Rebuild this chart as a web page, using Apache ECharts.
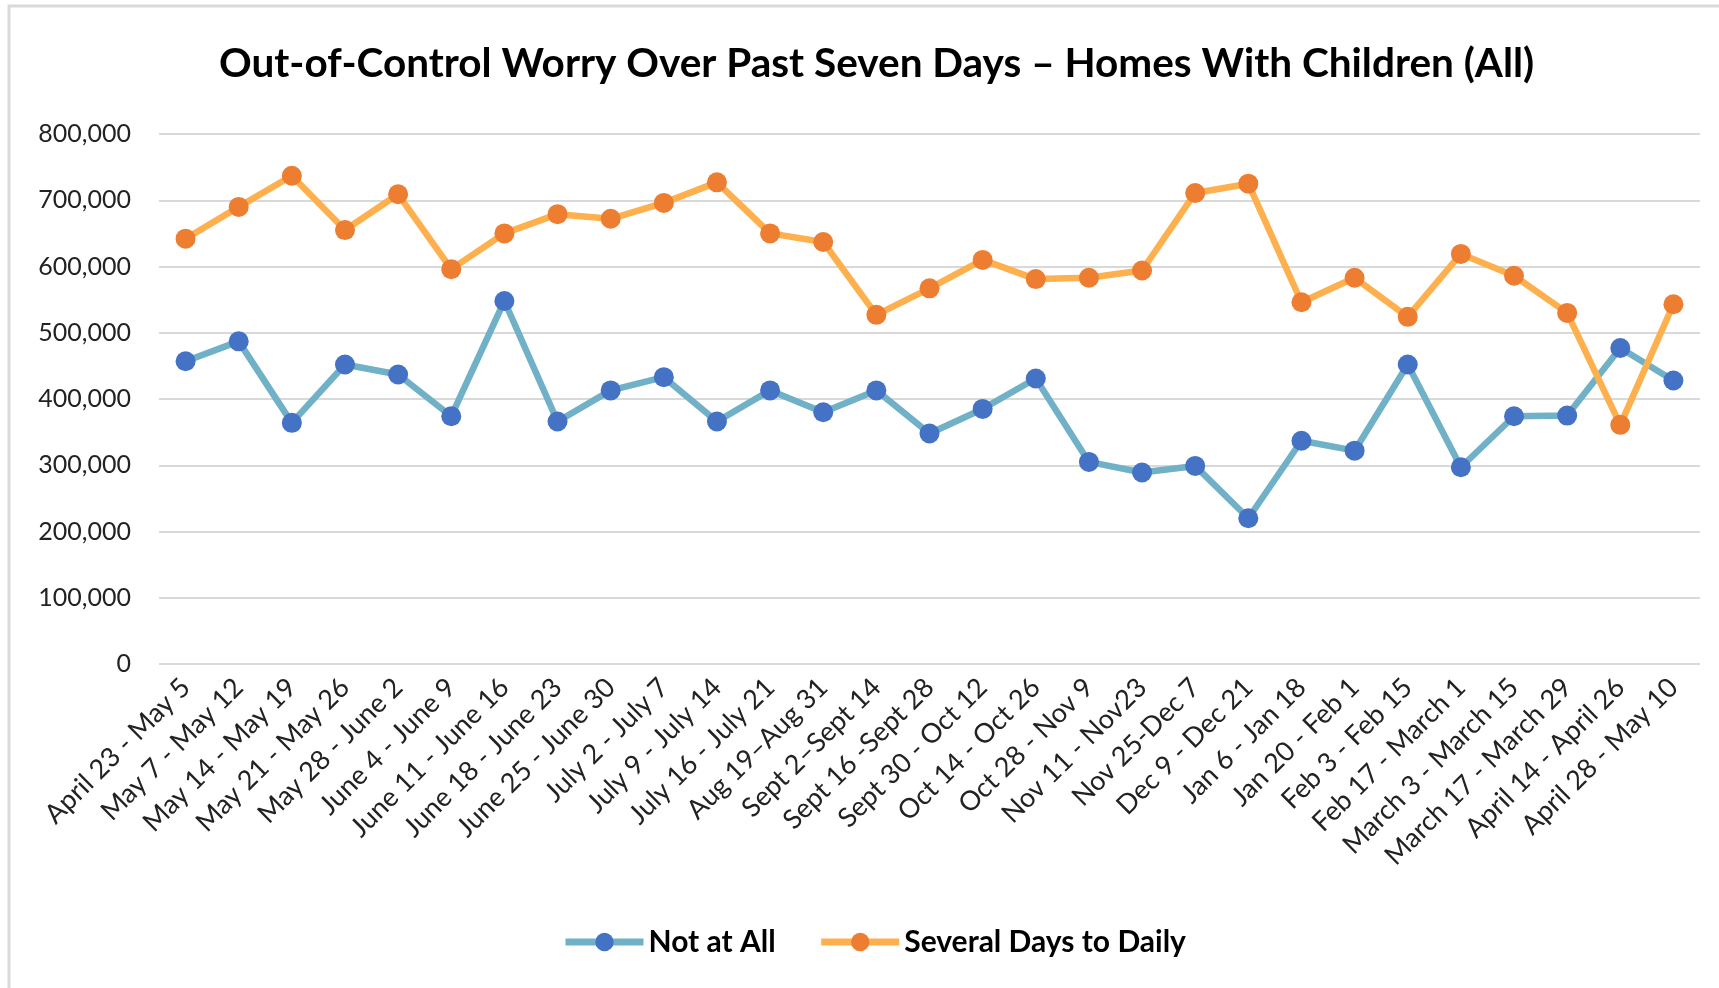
<!DOCTYPE html>
<html>
<head>
<meta charset="utf-8">
<title>Out-of-Control Worry</title>
<script src="https://cdn.jsdelivr.net/npm/echarts@6/dist/echarts.min.js"></script>
<style>
  html, body { margin: 0; padding: 0; background: #fff; }
  #chart { width: 1719px; height: 988px; }
</style>
</head>
<body>
<div id="chart"></div>
<script>
  // week ranges on the x axis
  const weeks = [
    'April 23 - May 5', 'May 7 - May 12', 'May 14 - May 19', 'May 21 - May 26',
    'May 28 - June 2', 'June 4 - June 9', 'June 11 - June 16', 'June 18 - June 23',
    'June 25 - June 30', 'July 2 - July 7', 'July 9 - July 14', 'July 16 - July 21',
    'Aug 19\u2013Aug 31', 'Sept 2\u2013Sept 14', 'Sept 16 -Sept 28', 'Sept 30 - Oct 12',
    'Oct 14 - Oct 26', 'Oct 28 - Nov 9', 'Nov 11 - Nov23', 'Nov 25-Dec 7',
    'Dec 9 - Dec 21', 'Jan 6 - Jan 18', 'Jan 20 - Feb 1', 'Feb 3 - Feb 15',
    'Feb 17 - March 1', 'March 3 - March 15', 'March 17 - March 29', 'April 14 - April 26',
    'April 28 - May 10'
  ]

  const notAtAll = [
    457000, 487000, 364000, 452000, 437000, 374000, 548000, 366000,
    413000, 433000, 366000, 413000, 380000, 413000, 348000, 385000,
    431000, 305000, 289000, 299000, 220000, 337000, 322000, 452000,
    297000, 374000, 375000, 477000, 428000
  ]

  const severalDays = [
    642000, 690000, 737000, 655000, 709000, 596000, 650000, 679000,
    672000, 696000, 727000, 650000, 637000, 527000, 567000, 610000,
    581000, 583000, 594000, 711000, 725000, 546000, 583000, 524000,
    619000, 586000, 530000, 361000, 543000
  ]

  const yTicks = [0, 800000, 100000] // min, max, step

  const chart = echarts.init(document.getElementById('chart'))
  const font = 'Lato, "Open Sans", sans-serif'

  chart.setOption({
    backgroundColor: '#fff',
    animation: false,
    textStyle: { fontFamily: font },
    graphic: [{
      type: 'rect',
      shape: { x: 9, y: 6, width: 1760, height: 1040 },
      style: { fill: 'none', stroke: '#d9d9d9', lineWidth: 3 },
      silent: true
    }],
    title: {
      text: 'Out-of-Control Worry Over Past Seven Days \u2013 Homes With Children (All)',
      left: 214,
      top: 38,
      textStyle: {
        fontFamily: font,
        fontSize: 40.5,
        fontWeight: 'bold',
        color: '#000'
      }
    },
    legend: {
      data: [
        { name: 'Not at All', lineStyle: { width: 7 } },
        { name: 'Several Days to Daily', lineStyle: { width: 7 } }
      ],
      left: 557,
      top: 922,
      itemWidth: 78,
      itemHeight: 23,
      itemGap: 42,
      textStyle: {
        fontFamily: font,
        fontSize: 30,
        fontWeight: 'bold',
        color: '#000'
      }
    },
    grid: {
      left: 159,
      right: 19,
      top: 134,
      bottom: 324
    },
    xAxis: {
      type: 'category',
      data: weeks,
      boundaryGap: true,
      axisLine: { show: false },
      axisTick: { show: false },
      axisLabel: {
        interval: 0,
        rotate: 45,
        margin: 19,
        fontFamily: font,
        fontSize: 27,
        color: '#222'
      }
    },
    yAxis: {
      type: 'value',
      min: yTicks[0],
      max: yTicks[1],
      interval: yTicks[2],
      axisLine: { show: false },
      axisTick: { show: false },
      axisLabel: {
        margin: 28,
        fontFamily: font,
        fontSize: 25,
        color: '#222',
        formatter: v => v.toLocaleString('en-US')
      },
      splitLine: { lineStyle: { color: '#d9d9d9', width: 2 } }
    },
    series: [
      {
        name: 'Not at All',
        type: 'line',
        data: notAtAll,
        symbol: 'circle',
        symbolSize: 20,
        lineStyle: { color: '#70b1c7', width: 6.5 },
        itemStyle: { color: '#4472c4' }
      },
      {
        name: 'Several Days to Daily',
        type: 'line',
        data: severalDays,
        symbol: 'circle',
        symbolSize: 20,
        lineStyle: { color: '#fdb04d', width: 6.5 },
        itemStyle: { color: '#ed7d31' }
      }
    ]
  })
</script>
</body>
</html>
